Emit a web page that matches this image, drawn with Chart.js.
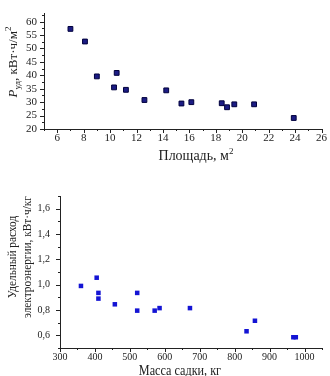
<!DOCTYPE html>
<html>
<head>
<meta charset="utf-8">
<script src="https://cdn.jsdelivr.net/npm/chart.js@4.4.1/dist/chart.umd.min.js"></script>
<style>
  html, body { margin: 0; padding: 0; background: #fff; overflow: hidden; }
  body { width: 330px; height: 376px; position: relative; font-family: 'Liberation Serif', 'Times New Roman', serif; color: #222; }
  .box { position: absolute; left: 0; width: 330px; }
  .title { position: absolute; white-space: nowrap; font-size: 14px; line-height: 15px; text-align: center; transform: translate(-50%, -50%); }
  .ytitle { transform: translate(-50%, -50%) rotate(-90deg); font-size: 13px; }
  .narrow { transform: translate(-50%, -50%) scaleX(0.87); }
  .ytitle.narrow { transform: translate(-50%, -50%) rotate(-90deg) scaleX(0.87); }
  sub, sup { font-size: 9px; line-height: 0; }
</style>
</head>
<body>
<div class="box" style="top:0;height:165px"><canvas id="areaChart"></canvas></div>
<div class="box" style="top:180px;height:204px"><canvas id="massChart"></canvas></div>

<div class="title ytitle" style="left:12px;top:62px"><i>P</i><sub>уд</sub>, кВт·ч/м<sup>2</sup></div>
<div class="title" style="left:196px;top:155px">Площадь, м<sup>2</sup></div>
<div class="title ytitle narrow" style="left:19px;top:257px">Удельный расход<br>электроэнергии, кВт·ч/кг</div>
<div class="title narrow" style="left:180px;top:370px">Масса садки, кг</div>

<script>
// top chart: specific power vs furnace area
const areaM2    = [7.0, 8.1, 9.0, 10.3, 10.5, 11.2, 12.6, 14.25, 15.4, 16.15, 18.45, 18.85, 19.4, 20.9, 23.9];
const specPower = [57.3, 52.6, 39.6, 35.5, 40.9, 34.6, 30.8, 34.4, 29.5, 30.0, 29.6, 28.1, 29.2, 29.2, 24.1];
const areaTicks  = [6, 8, 10, 12, 14, 16, 18, 20, 22, 24, 26];
const powerTicks = [20, 25, 30, 35, 40, 45, 50, 55, 60];

// bottom chart: specific energy vs charge mass
const chargeKg   = [360, 405, 410, 410, 457, 521, 521, 571, 585, 672, 834, 858, 968, 975];
const specEnergy = [0.99, 1.055, 0.935, 0.89, 0.845, 0.935, 0.795, 0.795, 0.815, 0.815, 0.632, 0.715, 0.585, 0.585];
const massTicks   = [300, 400, 500, 600, 700, 800, 900, 1000];
const energyTicks = [0.6, 0.8, 1.0, 1.2, 1.4, 1.6];

const SERIF = "'Liberation Serif', 'Times New Roman', serif";
const INK = '#222';

// outward major/minor tick marks (Chart.js has no minor ticks)
const tickMarks = {
  id: 'tickMarks',
  afterDraw(chart, args, opts) {
    const { ctx } = chart;
    ctx.save();
    ctx.strokeStyle = INK;
    ctx.lineWidth = 1;
    ctx.beginPath();
    for (const id of ['x', 'y']) {
      const s = chart.scales[id];
      const step = opts[id];
      for (let v = s.min; v <= s.max + step * 1e-3; v += step) {
        const major = s.ticks.some(t => Math.abs(t.value - v) < step * 1e-3);
        const len = major ? 4 : 2;
        const p = Math.round(s.getPixelForValue(v)) + 0.5;
        if (id === 'x') { ctx.moveTo(p, s.top); ctx.lineTo(p, s.top + len); }
        else { ctx.moveTo(s.right - len, p); ctx.lineTo(s.right, p); }
      }
    }
    ctx.stroke();
    ctx.restore();
  }
};

function axis(min, max, ticks, size, pad, fontSize, fmt) {
  return {
    type: 'linear', min, max,
    afterBuildTicks: s => { s.ticks = ticks.map(value => ({ value })); },
    afterFit: s => { if (s.isHorizontal()) s.height = size; else s.width = size; },
    grid: { display: true, drawOnChartArea: false, drawTicks: false },
    border: { display: true, color: INK, width: 1 },
    ticks: { color: INK, font: { family: SERIF, size: fontSize }, padding: pad, autoSkip: false, maxRotation: 0,
             callback: fmt || (v => String(v)) }
  };
}

function scatter(id, xs, ys, style, scales, padding, steps) {
  new Chart(document.getElementById(id), {
    type: 'scatter',
    data: { datasets: [{ data: xs.map((x, i) => ({ x, y: ys[i] })), pointStyle: 'rect', ...style }] },
    options: {
      responsive: true, maintainAspectRatio: false, animation: false,
      layout: { padding },
      plugins: { legend: { display: false }, tooltip: { enabled: false }, tickMarks: steps },
      scales
    },
    plugins: [tickMarks]
  });
}

scatter('areaChart', areaM2, specPower,
  { backgroundColor: '#1c1c84', borderColor: '#00003c', borderWidth: 1, pointRadius: 3.4 },
  { x: axis(5, 26, areaTicks, 36, 3, 11), y: axis(20, 63, powerTicks, 44, 7, 11) },
  { top: 3, right: 4, left: 0, bottom: 0 },
  { x: 1, y: 2.5 });

scatter('massChart', chargeKg, specEnergy,
  { backgroundColor: '#1414d4', borderWidth: 0, pointRadius: 3.2 },
  { x: axis(300, 1050, massTicks, 36, 3, 10),
    y: axis(0.5, 1.7, energyTicks, 60, 10, 10, v => v.toFixed(1).replace('.', ',')) },
  { top: 7, right: 8, left: 0, bottom: 0 },
  { x: 50, y: 0.1 });
</script>
</body>
</html>
